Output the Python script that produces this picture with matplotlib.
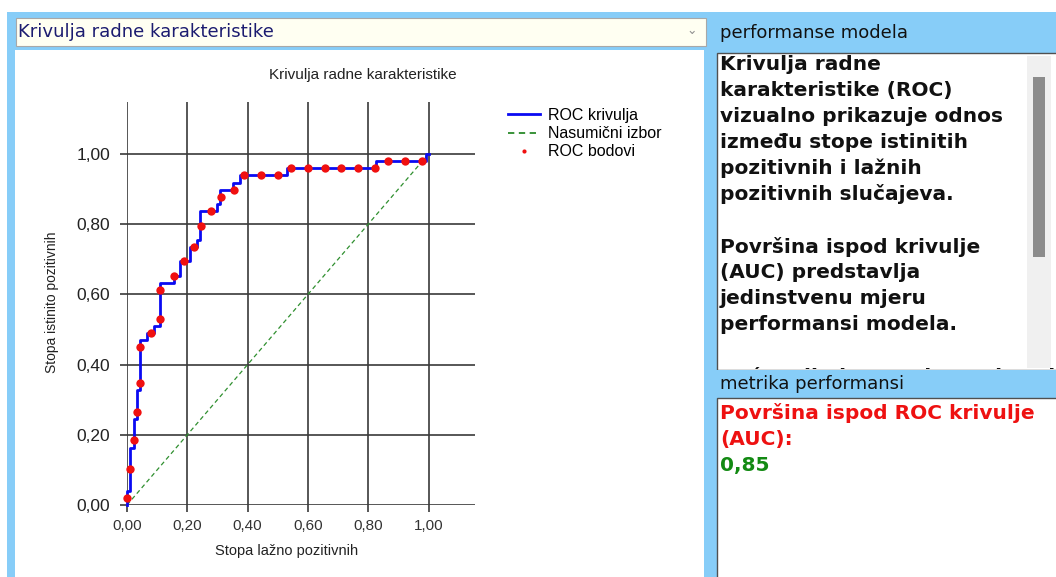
import matplotlib
matplotlib.use('Agg')
import matplotlib.pyplot as plt
from matplotlib.patches import Rectangle
from matplotlib.transforms import Bbox

W, H = 1056, 577

# ---------------- data ----------------
# ROC staircase vertices (fpr, tpr)
roc_fpr = [0.0, 0.0, 0.011, 0.022, 0.033, 0.044, 0.067, 0.089, 0.111, 0.155, 0.176,
           0.209, 0.231, 0.242, 0.297, 0.308, 0.353, 0.375, 0.530, 0.825, 0.992, 1.0]
roc_tpr = [0.0, 0.041, 0.163, 0.245, 0.327, 0.469, 0.490, 0.510, 0.633, 0.653, 0.694,
           0.735, 0.755, 0.837, 0.857, 0.898, 0.918, 0.939, 0.959, 0.980, 1.0, 1.0]
# sampled ROC points
pts_fpr = [0.0, 0.011, 0.022, 0.033, 0.044, 0.044, 0.078, 0.111, 0.111, 0.156, 0.189,
           0.222, 0.244, 0.278, 0.311, 0.356, 0.389, 0.444, 0.500, 0.544, 0.600, 0.656,
           0.711, 0.767, 0.822, 0.867, 0.922, 0.978]
pts_tpr = [0.020, 0.102, 0.184, 0.265, 0.347, 0.449, 0.490, 0.531, 0.612, 0.653, 0.694,
           0.735, 0.796, 0.837, 0.878, 0.898, 0.939, 0.939, 0.939, 0.959, 0.959, 0.959,
           0.959, 0.959, 0.959, 0.980, 0.980, 0.980]
diag = [0.0, 1.0]
ticks = [0.0, 0.2, 0.4, 0.6, 0.8, 1.0]
tick_labels = ['0,00', '0,20', '0,40', '0,60', '0,80', '1,00']

chart_title = 'Krivulja radne karakteristike'
x_label = 'Stopa lažno pozitivnih'
y_label = 'Stopa istinito pozitivnih'
legend_labels = ['ROC krivulja', 'Nasumični izbor', 'ROC bodovi']
dropdown_text = 'Krivulja radne karakteristike'
header1 = 'performanse modela'
header2 = 'metrika performansi'
desc_lines = ['Krivulja radne', 'karakteristike (ROC)', 'vizualno prikazuje odnos',
              'između stope istinitih', 'pozitivnih i lažnih', 'pozitivnih slučajeva.', '',
              'Površina ispod krivulje', '(AUC) predstavlja', 'jedinstvenu mjeru',
              'performansi modela.', '', 'Veća vrijednost od 0,5 ukazuje']
auc_label = ['Površina ispod ROC krivulje', '(AUC):']
auc_value = '0,85'

# ---------------- figure ----------------
fig = plt.figure(figsize=(W / 100, H / 100), dpi=100)
fig.patch.set_facecolor('white')

BLUE = '#87cdf8'


def rect(x0, y0, x1, y1, fc, ec='none', lw=0.0, z=-10):
    fig.add_artist(Rectangle((x0 / W, 1 - y1 / H), (x1 - x0) / W, (y1 - y0) / H,
                             transform=fig.transFigure, facecolor=fc, edgecolor=ec,
                             linewidth=lw, zorder=z))


def txt(x, y, s, **kw):
    kw.setdefault('va', 'center')
    return fig.text(x / W, 1 - y / H, s, **kw)


# UI frame
rect(7, 12, W, H, BLUE, z=-20)
rect(16, 18, 706, 46, '#fffff2', ec='#a8a8a8', lw=0.8, z=-10)
rect(15, 50, 704, H, 'white', z=-10)
rect(717, 53, W + 2, 370, 'white', ec='#505050', lw=1.0, z=-10)
rect(1027, 56, 1051, 368, '#f0f0f0', z=-9)
rect(1033, 77, 1045, 257, '#8c8c8c', z=-9)
rect(705, 370, W, 397, BLUE, z=-2)
rect(717, 398, W + 2, H + 2, 'white', ec='#505050', lw=1.0, z=-10)

r = fig.canvas.get_renderer()


def fit(t, target):
    w = t.get_window_extent(r).width
    t.set_fontsize(t.get_fontsize() * target / w)
    return t.get_fontsize()


ui = 'DejaVu Sans'
t = txt(18, 32, dropdown_text, color='#1c1c70', fontsize=10, family=ui)
fit(t, 256)
txt(692, 31, '⌄', color='#909090', fontsize=9, family=ui, ha='center')
t = txt(720, 33, header1, color='#111111', fontsize=10, family=ui)
fit(t, 188)
txt(720, 384, header2, color='#111111', fontsize=t.get_fontsize(), family=ui)

# description paragraph (last line is scrolled partly out of view)
probe = txt(720, 90, desc_lines[1], fontsize=12, family=ui, weight='bold')
fs = fit(probe, 231)
probe.remove()
clip = Bbox.from_extents(717, H - 369, W, H - 53)
for i, line in enumerate(desc_lines):
    if line:
        tl = txt(720, 64 + i * 26.1, line, fontsize=fs, family=ui, weight='bold',
                 color='#111111', zorder=-5)
        tl.set_clip_box(clip)
        tl.set_clip_on(True)

for i, line in enumerate(auc_label):
    txt(720, 413 + i * 26, line, fontsize=fs, family=ui, weight='bold', color='#ee1111')
txt(720, 465, auc_value, fontsize=fs, family=ui, weight='bold', color='#138a13')

# ---------------- chart ----------------
cf = 'Liberation Sans'
x0p, x1p, y0p, y1p = 127, 475, 102, 505
ax = fig.add_axes([x0p / W, 1 - y1p / H, (x1p - x0p) / W, (y1p - y0p) / H])
ax.set_facecolor('none')
sx = 301.5
sy = 351.0
ax.set_xlim(0, (x1p - x0p) / sx)
ax.set_ylim(0, (y1p - y0p) / sy)

ax.plot(roc_fpr, roc_tpr, drawstyle='steps-post', color='#0a0af2', lw=2.0,
        label=legend_labels[0], zorder=3, clip_on=False)
ax.plot(diag, diag, color='#2f8f2f', lw=0.9, ls=(0, (3.5, 2.5)), label=legend_labels[1], zorder=2)
ax.plot(pts_fpr, pts_tpr, 'o', color='#f01010', ms=6, mec='none', label=legend_labels[2],
        zorder=4, clip_on=False)

for s in ax.spines.values():
    s.set_visible(False)
ax.set_xticks(ticks)
ax.set_yticks(ticks)
ax.set_xticklabels(tick_labels, fontsize=11, family=cf, color='#333333')
ax.set_yticklabels(tick_labels, fontsize=12.5, family=cf, color='#222222')
ax.tick_params(direction='out', length=5, width=1.2, color='#3a3a3a')
ax.tick_params(axis='x', pad=5)
ax.tick_params(axis='y', pad=7)
ax.grid(True, color='#3a3a3a', lw=1.2)
ax.set_axisbelow(True)

txt(363, 75, chart_title, fontsize=11, family=cf, color='#222222', ha='center')
txt(287, 551, x_label, fontsize=10.5, family=cf, color='#222222', ha='center')
txt(52, 302, y_label, fontsize=10, family=cf, color='#222222', ha='center', rotation=90)

leg = ax.legend(loc='upper left', bbox_to_anchor=(508 / W, 1 - 108 / H),
                bbox_transform=fig.transFigure, frameon=False,
                prop={'family': cf, 'size': 11.5}, handlelength=2.0,
                handletextpad=0.5, labelspacing=0.2, markerscale=0.5,
                borderpad=0, borderaxespad=0)
leg.get_lines()[1].set_linewidth(1.3)
leg.get_lines()[1].set_color('#2a8a2a')

fig.savefig('out.png', dpi=100)
